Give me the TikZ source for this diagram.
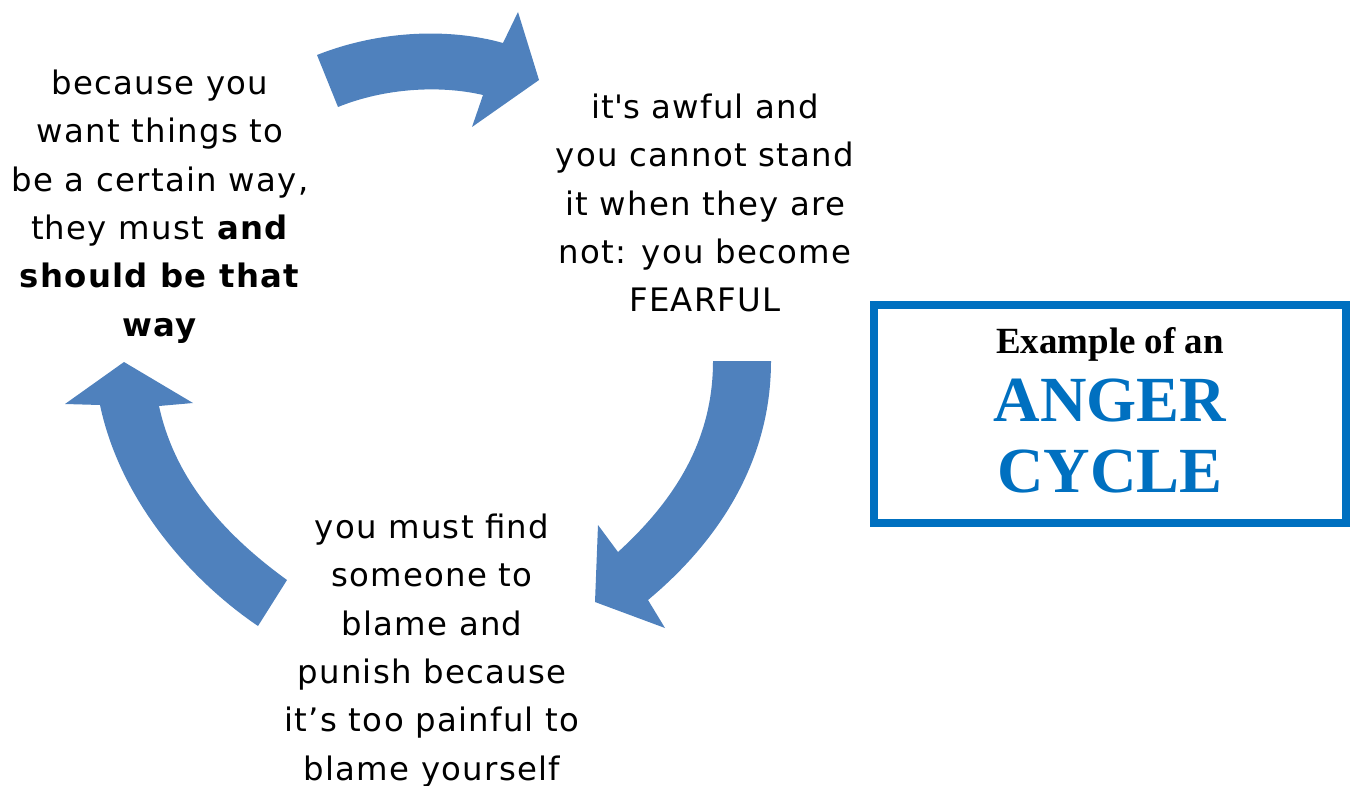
\documentclass[tikz,border=0pt]{standalone}
\usepackage{fontspec}
\usepackage{tikz}
\setmainfont{Liberation Serif}
\newfontfamily\cyclefont[LetterSpace=4]{DejaVu Sans}
\definecolor{arrowblue}{HTML}{4F81BD}
\definecolor{boxblue}{HTML}{0070C0}

\tikzset{
  thought/.style={align=center, inner sep=0pt, anchor=north,
    font=\cyclefont\fontsize{9.2}{13.77}\selectfont},
  cyclearrow/.style={fill=arrowblue},
  titlebox/.style={draw=boxblue, line width=2.28pt, minimum width=4.725cm,
    minimum height=2.18cm, inner sep=0pt},
  titleline/.style={anchor=base, inner sep=0pt, font=\bfseries\fontsize{10.5}{12}\selectfont},
  angerline/.style={anchor=base, inner sep=0pt, text=boxblue, font=\bfseries\fontsize{18.3}{20}\selectfont}
}

\begin{document}
\begin{tikzpicture}[x=0.01cm, y=-0.01cm]
  \useasboundingbox (0,0) rectangle (1352,785);

  \node[thought] (want) at (160,69) {because you\\want things to\\be a certain way,\\they must \textbf{and}\\\textbf{should be that}\\\textbf{way}};
  \node[thought] (fear) at (705,93) {it\textquotesingle s awful and\\you cannot stand\\it when they are\\not: you become\\FEARFUL};
  \node[thought] (blame) at (432,513) {you must find\\someone to\\blame and\\punish because\\it’s too painful to\\blame yourself};

  \node[titlebox] (title) at (1110,414) {};
  \node[titleline] (example) at (1110,353) {Example of an};
  \node[angerline] (anger) at (1110,421) {ANGER};
  \node[angerline] (cycle) at (1110,492) {CYCLE};

  % top arrow
  \fill[cyclearrow] (317,55) .. controls (380,30) and (450,28) .. (503,43)
    -- (518,12) -- (539,80) -- (472,127) -- (483,95)
    .. controls (440,85) and (385,88) .. (338,107) -- cycle;
  % right arrow
  \fill[cyclearrow] (771,361) .. controls (771,460) and (720,540) .. (648,600)
    -- (665,628) -- (595,602) -- (598,525) -- (618,552)
    .. controls (675,500) and (713,440) .. (713,361) -- cycle;
  % left arrow
  \fill[cyclearrow] (258,626) .. controls (190,580) and (120,500) .. (100,405)
    -- (65,404) -- (124,362) -- (193,403) -- (159,406)
    .. controls (175,480) and (225,535) .. (287,580) -- cycle;
\end{tikzpicture}
\end{document}
